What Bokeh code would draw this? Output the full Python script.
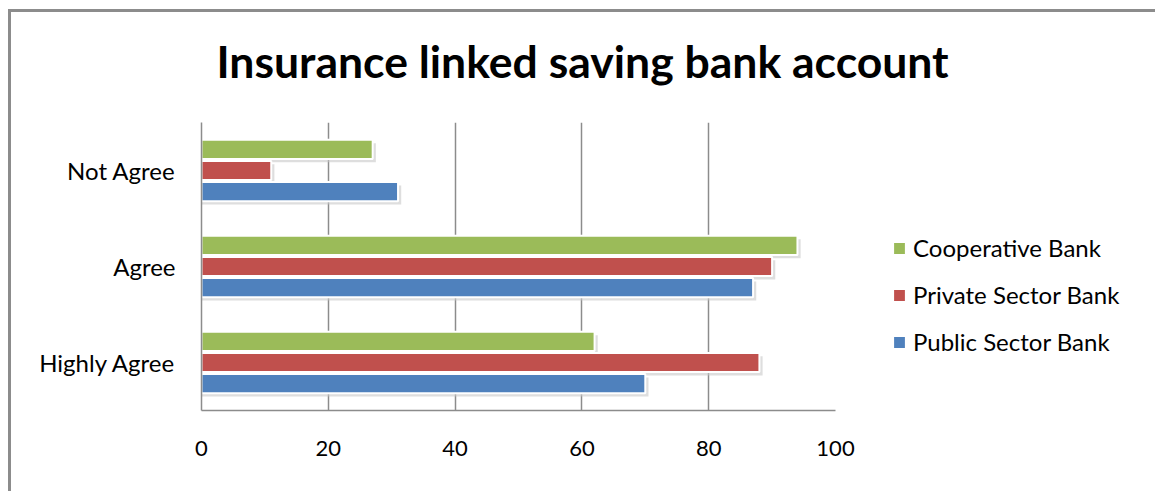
from bokeh.plotting import figure
from bokeh.models import ColumnDataSource, Range1d, FactorRange, Legend, LegendItem, FixedTicker
from bokeh.transform import dodge
from bokeh.embed import file_html
from bokeh.resources import INLINE

categories = ["Highly Agree", "Agree", "Not Agree"]
public_sector = [70, 87, 31]
private_sector = [88, 90, 11]
cooperative = [62, 94, 27]
series_names = ["Cooperative Bank", "Private Sector Bank", "Public Sector Bank"]
x_ticks = [0, 20, 40, 60, 80, 100]

colors = {"coop": "#9BBB59", "private": "#C0504D", "public": "#4F81BD"}

source = ColumnDataSource(dict(
    cat=categories,
    public=public_sector,
    private=private_sector,
    coop=cooperative,
    public_sh=[v + 0.5 for v in public_sector],
    private_sh=[v + 0.5 for v in private_sector],
    coop_sh=[v + 0.5 for v in cooperative],
))

p = figure(frame_width=634, frame_height=288, y_range=FactorRange(*categories), x_range=Range1d(0, 100),
           output_backend="svg", toolbar_location=None,
           min_border_left=201, min_border_right=320, min_border_top=122, min_border_bottom=81)
p.border_fill_alpha = 0
p.background_fill_color = "white"
g = "linear-gradient(#8c8c8c, #8c8c8c)"
p.styles = {
    "background": f"{g} 8px 9px / 3px 100% no-repeat, {g} 8px 9px / 100% 3px no-repeat, white",
}

p.title.text = "Insurance linked saving bank account"
p.title.text_font = "Lato"
p.title.text_font_style = "bold"
p.title.text_font_size = "44.5px"
p.title.align = "left"
p.title.vertical_align = "top"
p.title.offset = 15
p.title.standoff = 67
p.title.text_color = "black"

p.outline_line_color = None
p.ygrid.grid_line_color = None
p.xgrid.grid_line_color = "#8c8c8c"
p.xgrid.grid_line_width = 1.5
p.xgrid.ticker = FixedTicker(ticks=x_ticks)
p.xaxis.ticker = FixedTicker(ticks=x_ticks)

for ax in (p.xaxis, p.yaxis):
    ax.axis_line_color = "#8c8c8c"
    ax.axis_line_width = 1.5
    ax.major_tick_line_color = None
    ax.minor_tick_line_color = None
    ax.major_label_text_font = "Lato"
    ax.major_label_text_color = "black"
p.xaxis.major_label_text_font_size = "22px"
p.yaxis.major_label_text_font_size = "24px"
p.xaxis.major_label_standoff = 24
p.yaxis.major_label_standoff = 20

offsets = {"coop": 0.22, "private": 0.0, "public": -0.22}
shadow_dy = -0.035
renderers = {}
for key in ["public", "private", "coop"]:
    p.hbar(y=dodge("cat", offsets[key] + shadow_dy, range=p.y_range), right=key + "_sh", left=0,
           height=0.2, source=source, fill_color="#c8c8c8", fill_alpha=0.6, line_color=None)
for key in ["public", "private", "coop"]:
    renderers[key] = p.hbar(y=dodge("cat", offsets[key], range=p.y_range), right=key, left=0,
                            height=0.2, source=source, fill_color=colors[key],
                            line_color="white", line_width=2)

legend = Legend(items=[
    LegendItem(label=series_names[0], renderers=[renderers["coop"]]),
    LegendItem(label=series_names[1], renderers=[renderers["private"]]),
    LegendItem(label=series_names[2], renderers=[renderers["public"]]),
], location="center_left")
legend.title = " "
legend.title_text_font_size = "24px"
legend.title_standoff = 29
legend.border_line_color = None
legend.background_fill_alpha = 0
legend.padding = 6
legend.margin = 56
legend.glyph_width = 16
legend.glyph_height = 16
legend.label_height = 22
legend.spacing = 18
legend.label_standoff = 6
legend.label_text_font = "Lato"
legend.label_text_font_size = "24px"
legend.label_text_color = "black"
p.add_layout(legend, "right")

open("out.html", "w").write(file_html(p, INLINE))
